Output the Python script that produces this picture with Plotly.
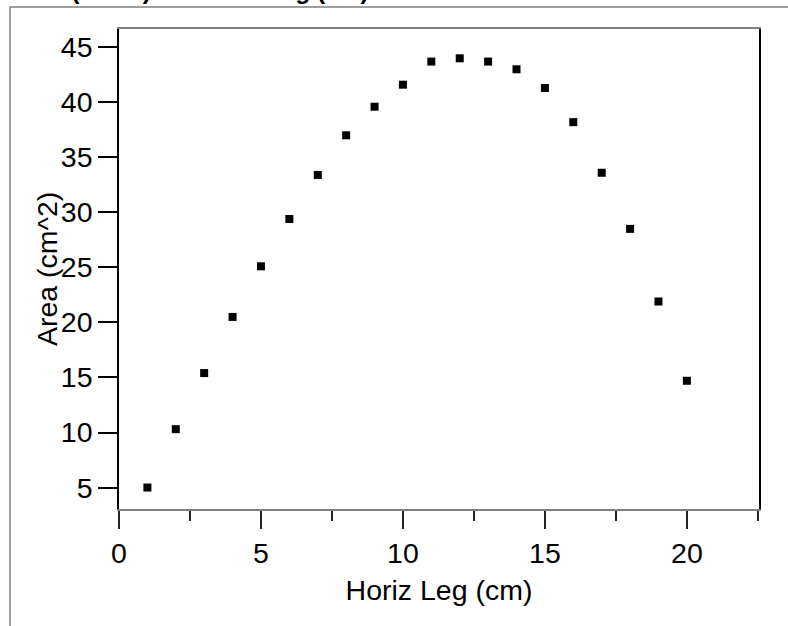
import plotly.graph_objects as go

# Horizontal leg length (cm) and the resulting area (cm^2)
horiz_leg = [1, 2, 3, 4, 5, 6, 7, 8, 9, 10, 11, 12, 13, 14, 15, 16, 17, 18, 19, 20]
area = [5.0, 10.3, 15.4, 20.5, 25.1, 29.4, 33.4, 37.0, 39.6, 41.6,
        43.7, 44.0, 43.7, 43.0, 41.3, 38.2, 33.6, 28.5, 21.9, 14.7]

x_ticks = [0, 5, 10, 15, 20]
y_ticks = [5, 10, 15, 20, 25, 30, 35, 40, 45]

FONT = "Liberation Sans, Arial, Helvetica, sans-serif"
FS = 28.5

fig = go.Figure()
fig.add_trace(go.Scatter(
    x=horiz_leg, y=area, mode="markers",
    marker=dict(symbol="square", size=8, color="black", line=dict(width=0)),
    showlegend=False, hoverinfo="x+y",
))

fig.update_layout(
    width=788, height=626,
    margin=dict(l=119, r=29, t=29, b=117),
    paper_bgcolor="white", plot_bgcolor="white",
    font=dict(family=FONT, size=FS, color="black"),
    xaxis=dict(
        range=[0, 22.54], tickvals=x_ticks, ticktext=[str(v) for v in x_ticks],
        ticks="outside", ticklen=18, tickwidth=1.5, tickcolor="#222",
        minor=dict(dtick=2.5, tick0=0, ticks="outside", ticklen=10, tickwidth=1.5, tickcolor="#222"),
        showline=True, linecolor="#808080", linewidth=2, mirror=True,
        showgrid=False, zeroline=False,
        title=dict(text="Horiz Leg (cm)", standoff=12, font=dict(size=FS)),
        tickfont=dict(size=FS),
    ),
    yaxis=dict(
        range=[3.05, 46.66], tickvals=y_ticks, ticktext=[str(v) for v in y_ticks],
        ticks="outside", ticklen=19, tickwidth=2, tickcolor="black",
        showline=True, linecolor="black", linewidth=1.5, mirror=True,
        showgrid=False, zeroline=False,
        tickfont=dict(size=FS),
    ),
    shapes=[
        # outer frame of the page, running off the right and bottom edges
        dict(type="rect", xref="paper", yref="paper",
             x0=(10 - 119) / 640, x1=1.2, y0=-0.4, y1=1 + (29 - 7) / 480,
             line=dict(color="#808080", width=1.5), fillcolor="rgba(0,0,0,0)", layer="below"),
    ],
    annotations=[
        dict(text="<b>Area (cm^2) vs. Horiz Leg (cm)</b>", xref="paper", yref="paper",
             x=(8 - 119) / 640, y=1, xanchor="left", yanchor="bottom", yshift=23,
             showarrow=False, font=dict(family=FONT, size=24.5, color="black")),
        # y-axis title
        dict(text="Area (cm^2)", xref="paper", yref="paper",
             x=(47 - 119) / 640, y=0.5, xanchor="center", yanchor="middle",
             textangle=-90, showarrow=False, font=dict(family=FONT, size=FS, color="black")),
    ],
)

fig.write_html("out.html")
